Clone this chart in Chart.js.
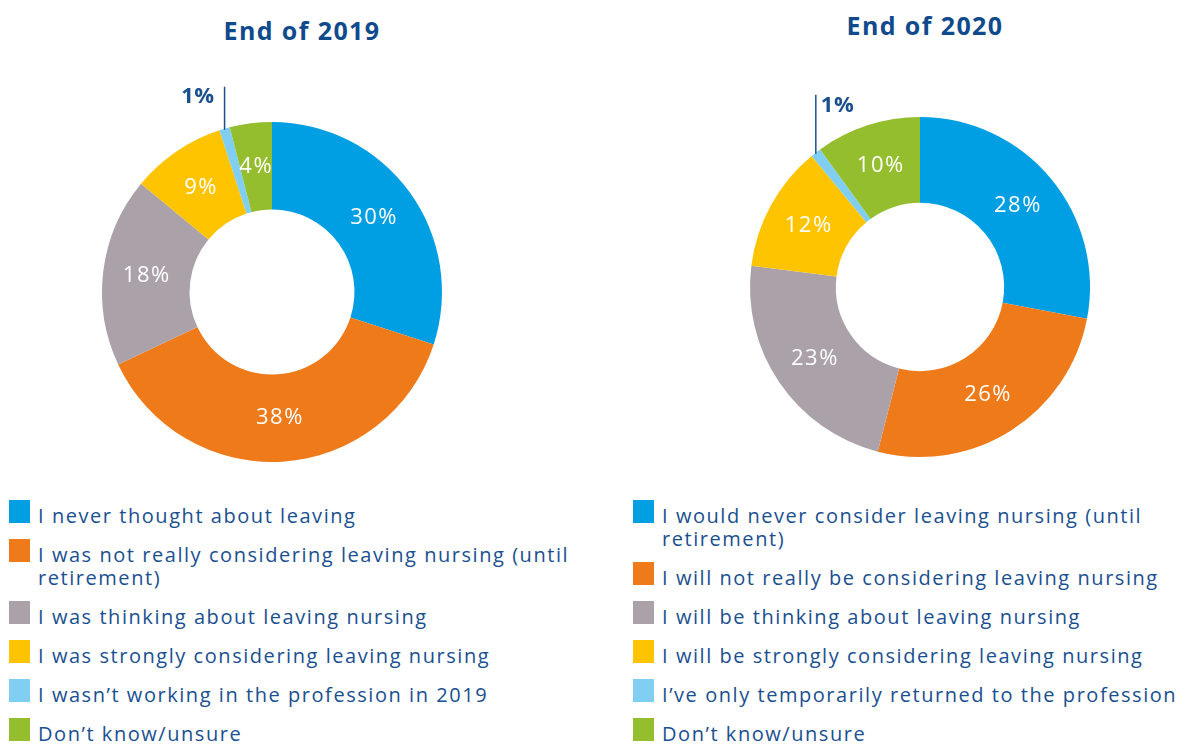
<!DOCTYPE html>
<html>
<head>
<meta charset="utf-8">
<script src="https://cdn.jsdelivr.net/npm/chart.js@4.4.1/dist/chart.umd.min.js"></script>
<style>
  html, body { margin:0; padding:0; background:#fff; }
  body { width:1181px; height:745px; position:relative; overflow:hidden; font-family:"Open Sans", sans-serif; }
  .title { position:absolute; font-weight:700; font-size:25px; letter-spacing:1.4px; color:#0f4a8c; transform:translateX(-50%); white-space:nowrap; line-height:30px; }
  canvas { position:absolute; }
  .legend { position:absolute; }
  .item { display:flex; align-items:flex-start; margin-bottom:16px; }
  .sw { width:21px; height:23px; flex:none; margin-top:-4px; }
  .txt { color:#1a4f90; font-size:20px; letter-spacing:1.55px; line-height:23px; white-space:nowrap; margin-left:8px; }
</style>
</head>
<body>
<div class="title" id="t1" style="left:302px; top:15px;"></div>
<div class="title" id="t2" style="left:925px; top:10px;"></div>
<canvas id="c1" width="560" height="420" style="left:0; top:60px;"></canvas>
<canvas id="c2" width="591" height="420" style="left:590px; top:60px;"></canvas>
<div class="legend" id="l1" style="left:9px; top:504px;"></div>
<div class="legend" id="l2" style="left:633px; top:504px;"></div>
<script>
const title2019 = "End of 2019";
const title2020 = "End of 2020";

const categories2019 = [
  "I never thought about leaving",
  ["I was not really considering leaving nursing (until", "retirement)"],
  "I was thinking about leaving nursing",
  "I was strongly considering leaving nursing",
  "I wasn\u2019t working in the profession in 2019",
  "Don\u2019t know/unsure"
];
const values2019 = [30, 38, 18, 9, 1, 4];

const categories2020 = [
  ["I would never consider leaving nursing (until", "retirement)"],
  "I will not really be considering leaving nursing",
  "I will be thinking about leaving nursing",
  "I will be strongly considering leaving nursing",
  "I\u2019ve only temporarily returned to the profession",
  "Don\u2019t know/unsure"
];
const values2020 = [28, 26, 23, 12, 1, 10];

const colors = ["#009fe3", "#ef7a1a", "#aba2a9", "#ffc400", "#80cff2", "#95be2f"];
const textBlue = "#1a4f90";

document.getElementById('t1').textContent = title2019;
document.getElementById('t2').textContent = title2020;

function buildLegend(id, cats) {
  const el = document.getElementById(id);
  cats.forEach((c, i) => {
    const item = document.createElement('div');
    item.className = 'item';
    const sw = document.createElement('div');
    sw.className = 'sw';
    sw.style.background = colors[i];
    const tx = document.createElement('div');
    tx.className = 'txt';
    const lines = Array.isArray(c) ? c : [c];
    lines.forEach((ln, k) => {
      if (k) tx.appendChild(document.createElement('br'));
      tx.appendChild(document.createTextNode(ln));
    });
    item.appendChild(sw); item.appendChild(tx);
    el.appendChild(item);
  });
}
buildLegend('l1', categories2019);
buildLegend('l2', categories2020);

const labelPlugin = {
  id: 'sliceLabels',
  afterDatasetsDraw(chart, args, opts) {
    const ctx = chart.ctx;
    const meta = chart.getDatasetMeta(0);
    const data = chart.data.datasets[0].data;
    ctx.save();
    meta.data.forEach((arc, i) => {
      const v = data[i];
      const txt = v + '%';
      if (v <= 2) {
        const p = arc.getProps(['x','y','startAngle','endAngle','outerRadius'], true);
        const mid = (p.startAngle + p.endAngle) / 2;
        const ox = p.x + Math.cos(mid) * p.outerRadius;
        const oy = p.y + Math.sin(mid) * p.outerRadius;
        const topY = oy - opts.lineLength;
        ctx.strokeStyle = textBlue;
        ctx.lineWidth = 1.5;
        ctx.beginPath();
        ctx.moveTo(ox, oy + 1);
        ctx.lineTo(ox, topY);
        ctx.stroke();
        ctx.fillStyle = textBlue;
        ctx.font = '700 22px "Open Sans"';
        ctx.letterSpacing = '0.5px';
        ctx.textBaseline = 'middle';
        ctx.textAlign = opts.side === 'left' ? 'right' : 'left';
        ctx.fillText(txt, ox + (opts.side === 'left' ? -10 : 5), topY + opts.labelDy);
      } else {
        const c = arc.getCenterPoint();
        ctx.fillStyle = '#ffffff';
        ctx.font = '500 22px "Open Sans"';
        ctx.letterSpacing = '1.5px';
        ctx.textAlign = 'center';
        ctx.textBaseline = 'middle';
        ctx.fillText(txt, c.x, c.y);
      }
    });
    ctx.restore();
  }
};

function makeChart(id, cats, vals, pad, cutout, labelOpts) {
  return new Chart(document.getElementById(id), {
    type: 'doughnut',
    data: {
      labels: cats,
      datasets: [{
        data: vals,
        backgroundColor: colors,
        borderWidth: 0,
        hoverOffset: 0
      }]
    },
    options: {
      responsive: false,
      animation: false,
      cutout: cutout,
      layout: { padding: pad },
      plugins: {
        legend: { display: false },
        tooltip: { enabled: false },
        sliceLabels: labelOpts
      }
    },
    plugins: [labelPlugin]
  });
}

makeChart('c1', categories2019, values2019, {left:102, right:118, top:62, bottom:18}, '48.5%', {side:'left', lineLength:42, labelDy:10});
makeChart('c2', categories2020, values2020, {left:160, right:91, top:57, bottom:23}, '49.5%', {side:'right', lineLength:58, labelDy:11});
</script>
</body>
</html>
